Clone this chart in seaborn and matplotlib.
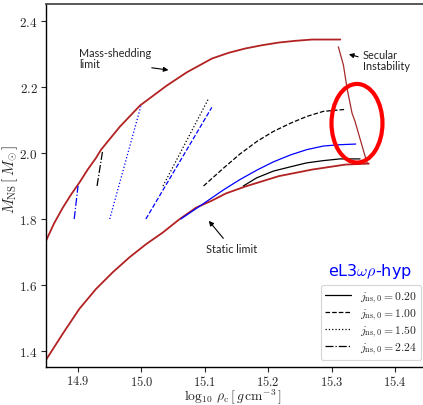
import numpy as np
import pandas as pd
import matplotlib
matplotlib.use("Agg")
import matplotlib.pyplot as plt
from matplotlib.patches import Ellipse
import seaborn as sns

# ---- data ----
shed_x = [14.8495, 14.862, 14.8759, 14.889, 14.9021, 14.9150, 14.9284, 14.9363, 14.9662, 14.9978,
          15.0399, 15.0714, 15.1114, 15.1377, 15.1639, 15.1902, 15.2166, 15.2427, 15.2691, 15.3137]
shed_y = [1.734, 1.786, 1.834, 1.874, 1.910, 1.949, 1.985, 2.0099, 2.080, 2.1437,
          2.2039, 2.244, 2.286, 2.3033, 2.3163, 2.3262, 2.3343, 2.3395, 2.3434, 2.3434]

static_x = [14.8495, 14.8759, 14.9021, 14.9284, 14.9547, 14.9809, 15.0073, 15.0336, 15.0598,
            15.0861, 15.1114, 15.1334, 15.1639, 15.2166, 15.2691, 15.3216, 15.3585]
static_y = [1.3735, 1.4527, 1.528, 1.5883, 1.6386, 1.6837, 1.7238, 1.759, 1.7991,
            1.8343, 1.856, 1.8775, 1.8985, 1.9298, 1.9497, 1.9648, 1.9678]

secular_x = [15.3106, 15.3186, 15.3243, 15.3322, 15.3369, 15.3558, 15.3585]
secular_y = [2.3214, 2.266, 2.196, 2.1205, 2.0955, 1.970, 1.9678]

j_labels = ["0.20", "1.00", "1.50", "2.24"]
j_styles = ["-", "--", ":", "-."]

black_x = [[15.1607, 15.1818, 15.208, 15.2344, 15.2607, 15.2869, 15.3132, 15.3448],
           [15.098, 15.130, 15.1555, 15.183, 15.208, 15.235, 15.2607, 15.287, 15.322],
           [15.034, 15.106],
           [14.93, 14.939]]
black_y = [[1.90, 1.9247, 1.945, 1.9578, 1.970, 1.9768, 1.982, 1.982],
           [1.90, 1.955, 1.997, 2.036, 2.065, 2.09, 2.1105, 2.126, 2.132],
           [1.90, 2.165],
           [1.90, 2.009]]

blue_x = [[15.062, 15.089, 15.130, 15.1555, 15.183, 15.208, 15.235, 15.2607, 15.287, 15.3132, 15.338],
          [15.007, 15.111],
          [14.95, 14.999],
          [14.894, 14.9]]
blue_y = [[1.80, 1.835, 1.889, 1.9196, 1.949, 1.9729, 1.994, 2.010, 2.021, 2.025, 2.027],
          [1.80, 2.138],
          [1.80, 2.141],
          [1.80, 1.90]]

xticks = [14.9, 15.0, 15.1, 15.2, 15.3, 15.4]
yticks = [1.4, 1.6, 1.8, 2.0, 2.2, 2.4]

# ---- style ----
sns.set_theme(style="ticks")
plt.rcParams["mathtext.fontset"] = "cm"
plt.rcParams["font.family"] = ["DejaVu Sans"]

fig = plt.figure(figsize=(4.23, 4.06), dpi=100)
W, H = 423, 406
ax = fig.add_axes([46 / W, 1 - 368 / H, (428 - 46) / W, (368 - 5) / H])

red = "#b22222"
sns.lineplot(x=shed_x, y=shed_y, ax=ax, color=red, lw=1.3, sort=False, estimator=None)
sns.lineplot(x=static_x, y=static_y, ax=ax, color=red, lw=1.3, sort=False, estimator=None)
sns.lineplot(x=secular_x, y=secular_y, ax=ax, color="#a52a2a", lw=0.9, sort=False, estimator=None)

for i in range(4):
    sns.lineplot(x=blue_x[i], y=blue_y[i], ax=ax, color="blue", lw=0.9,
                 linestyle=j_styles[i], sort=False, estimator=None)
    sns.lineplot(x=black_x[i], y=black_y[i], ax=ax, color="black", lw=0.9,
                 linestyle=j_styles[i], sort=False, estimator=None,
                 label=r"$j_{\rm ns,0} = %s$" % j_labels[i])

ax.set_xlim(14.8495, 15.452)
ax.set_ylim(1.352, 2.451)
ax.set_xticks(xticks)
ax.set_yticks(yticks)
ax.set_xticklabels([r"$%.1f$" % v for v in xticks], fontsize=9.0)
ax.set_yticklabels([r"$%.1f$" % v for v in yticks], fontsize=9.5)
ax.tick_params(axis="x", direction="out", length=3.5, width=0.8, pad=1.5)
ax.tick_params(axis="y", direction="out", length=3.5, width=0.8, pad=2.5)

ax.set_xlabel(r"$\log_{10}\,\rho_{\rm c}\,[\,g\,{\rm cm}^{-3}\,]$", fontsize=9.8)
ax.set_ylabel(r"$M_{\rm NS}\,[\,M_{\odot}\,]$", fontsize=11)
ax.xaxis.set_label_coords(0.49, -0.054)
ax.yaxis.set_label_coords(-0.068, 0.52)

for s in ["left", "bottom"]:
    ax.spines[s].set_color("black")
    ax.spines[s].set_linewidth(1.0)
ax.spines["top"].set_color("#444444")
ax.spines["right"].set_color("#444444")

# ellipse highlight
ax.add_patch(Ellipse((15.340, 2.090), 0.0804, 0.238, fill=False,
                     edgecolor="red", lw=3.0, zorder=5, clip_on=False))

# annotations
afont = dict(fontsize=7.8, family=["Lato", "DejaVu Sans"], color="#222222")
ax.text(14.9016, 2.322, "Mass-shedding\nlimit", ha="left", va="top", linespacing=1.0, **afont)
ax.annotate("", xy=(15.047, 2.25), xytext=(15.012, 2.259),
            arrowprops=dict(arrowstyle="-|>", color="black", lw=0.8, mutation_scale=7))
ax.text(15.3495, 2.314, "Secular\nInstability", ha="left", va="top", linespacing=1.0, **afont)
ax.annotate("", xy=(15.323, 2.301), xytext=(15.346, 2.289),
            arrowprops=dict(arrowstyle="-|>", color="black", lw=0.8, mutation_scale=7))
ax.text(15.102, 1.711, "Static limit", ha="left", va="center", **afont)
ax.annotate("", xy=(15.1035, 1.801), xytext=(15.132, 1.735),
            arrowprops=dict(arrowstyle="-|>", color="black", lw=0.8, mutation_scale=7))

ax.text(15.36, 1.645, r"eL3$\omega\rho$-hyp", color="blue", fontsize=11.5,
        ha="center", va="center", family=["DejaVu Sans"])

leg = ax.legend(loc="lower right", fontsize=8.4, frameon=True, handlelength=2.2,
                borderaxespad=0.6, labelspacing=0.12, handletextpad=0.8, borderpad=0.35,
                fancybox=True)
leg.get_frame().set_edgecolor("#cccccc")
leg.get_frame().set_linewidth(0.8)

fig.savefig("out.png", dpi=100)
